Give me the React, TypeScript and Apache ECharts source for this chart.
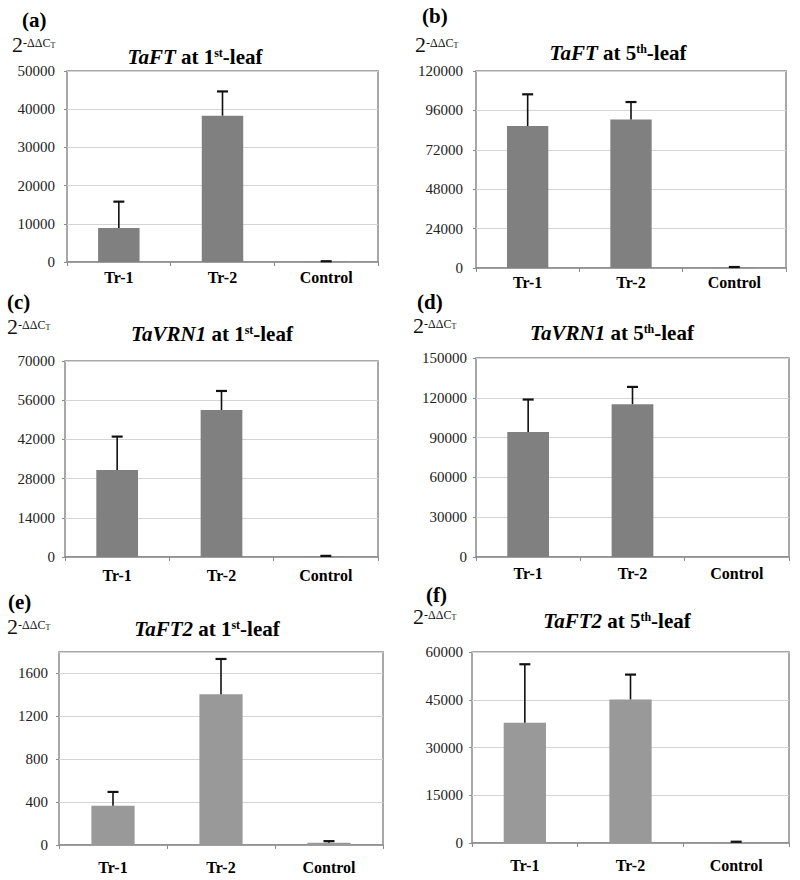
import React, { useEffect, useRef } from "react";
import * as echarts from "echarts";

const categories = ["Tr-1", "Tr-2", "Control"];

const aValues = [8900, 38300, 50];
const aErrors = [6900, 6350, 150];
const bValues = [86500, 90400, 200];
const bErrors = [19300, 10700, 400];
const cValues = [31100, 52500, 100];
const cErrors = [11900, 6800, 300];
const dValues = [94200, 115200, 0];
const dErrors = [24500, 13000, 0];
const eValues = [365, 1405, 22];
const eErrors = [130, 330, 14];
const fValues = [37800, 45100, 100];
const fErrors = [18350, 7800, 300];

const panelLetters = ["(a)", "(b)", "(c)", "(d)", "(e)", "(f)"];
const genes = ["TaFT", "TaFT", "TaVRN1", "TaVRN1", "TaFT2", "TaFT2"];
const leafNums = ["1", "5", "1", "5", "1", "5"];
const leafSups = ["st", "th", "st", "th", "st", "th"];
const yMaxes = [50000, 120000, 70000, 150000, 1800, 60000];
const yIntervals = [10000, 24000, 14000, 30000, 400, 15000];

const FONT = "Liberation Serif";

const panels = [
  { values: aValues, errors: aErrors, grid: { left: 67, top: 71, width: 311, height: 191 }, color: "#808080", ylm: 12, xlm: 7,
    letter: [22, 20], unit: [12, 46], title: [195, 57] },
  { values: bValues, errors: bErrors, grid: { left: 476, top: 71, width: 310, height: 197 }, color: "#808080", ylm: 13, xlm: 6,
    letter: [422, 16], unit: [415, 46], title: [618, 53] },
  { values: cValues, errors: cErrors, grid: { left: 65, top: 361, width: 313, height: 196 }, color: "#808080", ylm: 10, xlm: 10,
    letter: [7, 302], unit: [7, 328], title: [212, 334] },
  { values: dValues, errors: dErrors, grid: { left: 476, top: 358, width: 313, height: 199 }, color: "#808080", ylm: 9, xlm: 8,
    letter: [417, 302], unit: [413, 327], title: [612, 333] },
  { values: eValues, errors: eErrors, grid: { left: 59, top: 652, width: 324, height: 193 }, color: "#999999", ylm: 11, xlm: 14,
    letter: [8, 602], unit: [7, 628], title: [207, 629] },
  { values: fValues, errors: fErrors, grid: { left: 472, top: 652, width: 317, height: 191 }, color: "#999999", ylm: 9, xlm: 14,
    letter: [426, 595], unit: [413, 618], title: [617, 621] },
];

export default function App() {
  const ref = useRef<HTMLDivElement>(null);

  useEffect(() => {
    if (!ref.current) return;
    const chart = echarts.init(ref.current, null, { renderer: "svg" });

    const grids: any[] = [];
    const xAxes: any[] = [];
    const yAxes: any[] = [];
    const series: any[] = [];
    const graphics: any[] = [];

    panels.forEach((p, i) => {
      grids.push({
        ...p.grid,
        show: true,
        borderColor: "#8c8c8c",
        borderWidth: 1.5,
        backgroundColor: "transparent",
        containLabel: false,
      });
      xAxes.push({
        type: "category",
        gridIndex: i,
        data: categories,
        axisLine: { show: true, lineStyle: { color: "#8c8c8c", width: 1.5 } },
        axisTick: { show: true, length: 4, lineStyle: { color: "#8c8c8c" } },
        axisLabel: { color: "#000", fontFamily: FONT, fontWeight: "bold", fontSize: 16, margin: p.xlm },
      });
      yAxes.push({
        type: "value",
        gridIndex: i,
        min: 0,
        max: yMaxes[i],
        interval: yIntervals[i],
        axisLine: { show: false },
        axisTick: { show: true, length: 3, lineStyle: { color: "#8c8c8c" } },
        splitLine: { show: true, lineStyle: { color: "#d4d4d4", width: 1 } },
        axisLabel: {
          color: "#222",
          fontFamily: FONT,
          fontSize: 15,
          margin: p.ylm,
          showMaxLabel: i === 4 ? false : true,
          formatter: (v: number) => String(v),
        },
      });
      series.push({
        type: "bar",
        xAxisIndex: i,
        yAxisIndex: i,
        data: p.values,
        barWidth: "40%",
        itemStyle: { color: p.color },
        z: 2,
      });
      series.push({
        type: "custom",
        xAxisIndex: i,
        yAxisIndex: i,
        z: 3,
        data: p.values.map((v, k) => [k, v, p.errors[k]]),
        encode: { x: 0, y: 1 },
        renderItem: (params: any, api: any) => {
          const x = api.value(0);
          const v = api.value(1);
          const e = api.value(2);
          if (!(e > 0)) return null;
          const base = api.coord([x, v]);
          const top = api.coord([x, v + e]);
          return {
            type: "group",
            children: [
              {
                type: "line",
                shape: { x1: base[0], y1: base[1], x2: top[0], y2: top[1] },
                style: { stroke: "#111", lineWidth: 1.6 },
              },
              {
                type: "line",
                shape: { x1: top[0] - 5.5, y1: top[1], x2: top[0] + 5.5, y2: top[1] },
                style: { stroke: "#111", lineWidth: 2.2 },
              },
            ],
          };
        },
      });

      graphics.push({
        type: "text",
        x: p.letter[0],
        y: p.letter[1],
        style: {
          text: panelLetters[i],
          fontFamily: FONT,
          fontSize: 21,
          fontWeight: "bold",
          fill: "#000",
          align: "left",
          verticalAlign: "middle",
        },
      });
      graphics.push({
        type: "text",
        x: p.unit[0],
        y: p.unit[1],
        style: {
          text: "{n|2}{s|-ΔΔC}{t|T}",
          align: "left",
          verticalAlign: "middle",
          fill: "#000",
          rich: {
            n: { fontFamily: FONT, fontSize: 22, fill: "#111", lineHeight: 18, verticalAlign: "bottom" },
            s: { fontFamily: FONT, fontSize: 12, fill: "#111", verticalAlign: "top", lineHeight: 10 },
            t: { fontFamily: FONT, fontSize: 8, fill: "#111", verticalAlign: "top", lineHeight: 8, padding: [4, 0, 0, 0] },
          },
        },
      });
      graphics.push({
        type: "text",
        x: p.title[0],
        y: p.title[1],
        style: {
          text: `{i|${genes[i]}}{b| at ${leafNums[i]}}{sup|${leafSups[i]}}{b|-leaf}`,
          align: "center",
          verticalAlign: "middle",
          fill: "#000",
          rich: {
            i: { fontFamily: FONT, fontSize: 21, fontWeight: "bold", fontStyle: "italic", fill: "#000", lineHeight: 21, verticalAlign: "bottom" },
            b: { fontFamily: FONT, fontSize: 21, fontWeight: "bold", fill: "#000", lineHeight: 21, verticalAlign: "bottom" },
            sup: { fontFamily: FONT, fontSize: 12, fontWeight: "bold", fill: "#000", lineHeight: 12, verticalAlign: "top" },
          },
        },
      });
    });

    chart.setOption({
      animation: false,
      backgroundColor: "#fff",
      grid: grids,
      xAxis: xAxes,
      yAxis: yAxes,
      series,
      graphic: graphics,
    });

    return () => {
      chart.dispose();
    };
  }, []);

  return (
    <div
      ref={ref}
      style={{ position: "absolute", left: 0, top: 0, width: 800, height: 880 }}
    />
  );
}
